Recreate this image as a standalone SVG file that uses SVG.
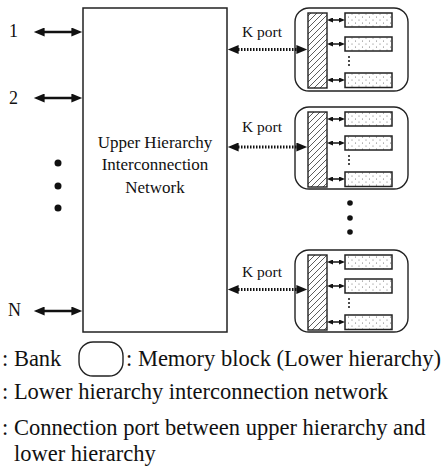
<svg xmlns="http://www.w3.org/2000/svg" width="445" height="471" viewBox="0 0 445 471">
<style>
text { font-family: "Liberation Serif", "Times New Roman", serif; fill: #111; }
.num { font-size: 18px; }
.main { font-size: 17px; text-anchor: middle; }
.kp { font-size: 15.5px; }
.leg { font-size: 22.5px; }
.box { fill: #fff; stroke: #222; stroke-width: 1.5; }
.bank { fill: #fff; stroke: #222; stroke-width: 1.4; }
.bar { fill: url(#hatch); stroke: #222; stroke-width: 1.4; }
.mem { fill: url(#dots); stroke: #222; stroke-width: 1.5; }
.big { stroke: #111; stroke-width: 2.5; fill: none; marker-start: url(#ah); marker-end: url(#ah); }
.dot { stroke: #111; stroke-width: 3; stroke-dasharray: 1.5 1.5; fill: none; marker-start: url(#ah); marker-end: url(#ah); }
.sm { stroke: #111; stroke-width: 1.5; fill: none; marker-start: url(#sh); marker-end: url(#sh); }
.blob { fill: #111; }
</style>
<defs>
<pattern id="hatch" patternUnits="userSpaceOnUse" width="6" height="6">
<path d="M0,6 L6,0 M-1,1 L1,-1 M5,7 L7,5" stroke="#333" stroke-width="0.8"/>
</pattern>
<pattern id="dots" patternUnits="userSpaceOnUse" width="7" height="6">
<circle cx="2" cy="2" r="0.55" fill="#666"/>
<circle cx="5.5" cy="5" r="0.55" fill="#666"/>
</pattern>
<marker id="ah" viewBox="0 0 12 10" refX="4" refY="5" markerWidth="12" markerHeight="9" markerUnits="userSpaceOnUse" orient="auto-start-reverse">
<path d="M0,0 L12,5 L0,10 z" fill="#111"/>
</marker>
<marker id="sh" viewBox="0 0 6 5" refX="2" refY="2.5" markerWidth="6" markerHeight="5" markerUnits="userSpaceOnUse" orient="auto-start-reverse">
<path d="M0,0 L6,2.5 L0,5 z" fill="#111"/>
</marker>
</defs>

<g id="upper-network">
<rect class="box" x="83" y="8" width="144" height="324"/>
<text class="main" x="155" y="148">Upper Hierarchy</text>
<text class="main" x="155" y="170">Interconnection</text>
<text class="main" x="155" y="193">Network</text>
</g>

<g id="port-labels">
<text class="num" x="9" y="37">1</text>
<text class="num" x="9" y="104">2</text>
<text class="num" x="8" y="316">N</text>
<circle class="blob" cx="58" cy="163" r="3.5"/>
<circle class="blob" cx="58" cy="186" r="3.5"/>
<circle class="blob" cx="58" cy="208" r="3.5"/>
</g>

<g id="bank1">
<rect class="bank" x="295" y="8" width="113" height="83" rx="14"/>
<rect class="bar" x="308" y="13" width="19" height="75"/>
<rect class="mem" x="345" y="13" width="47" height="14"/>
<rect class="mem" x="345" y="37" width="47" height="14"/>
<rect class="mem" x="345" y="73" width="47" height="14.5"/>
<circle class="blob" cx="349" cy="57" r="1"/>
<circle class="blob" cx="349" cy="61" r="1"/>
<circle class="blob" cx="349" cy="65" r="1"/>
<text class="kp" x="242" y="37">K port</text>
</g>

<g id="bank2">
<rect class="bank" x="295" y="107" width="113" height="82" rx="14"/>
<rect class="bar" x="308" y="112" width="19" height="75"/>
<rect class="mem" x="345" y="112" width="47" height="14"/>
<rect class="mem" x="345" y="136" width="47" height="14"/>
<rect class="mem" x="345" y="172" width="47" height="14.5"/>
<circle class="blob" cx="349" cy="156" r="1"/>
<circle class="blob" cx="349" cy="160" r="1"/>
<circle class="blob" cx="349" cy="164" r="1"/>
<text class="kp" x="242" y="132">K port</text>
</g>

<g id="bank-dots">
<circle class="blob" cx="350" cy="203" r="2.8"/>
<circle class="blob" cx="350" cy="218" r="2.8"/>
<circle class="blob" cx="350" cy="232" r="2.8"/>
</g>

<g id="bank3">
<rect class="bank" x="295" y="250" width="113" height="82" rx="14"/>
<rect class="bar" x="308" y="255" width="19" height="75"/>
<rect class="mem" x="345" y="255" width="47" height="14"/>
<rect class="mem" x="345" y="279" width="47" height="14"/>
<rect class="mem" x="345" y="315" width="47" height="14.5"/>
<circle class="blob" cx="349" cy="299" r="1"/>
<circle class="blob" cx="349" cy="303" r="1"/>
<circle class="blob" cx="349" cy="307" r="1"/>
<text class="kp" x="242" y="277">K port</text>
</g>

<g id="connectors">
<line class="big" x1="41" y1="32" x2="75" y2="32"/>
<line class="big" x1="41" y1="98" x2="75" y2="98"/>
<line class="big" x1="41" y1="311" x2="75" y2="311"/>
<line class="dot" x1="235" y1="49.5" x2="300" y2="49.5"/>
<line class="dot" x1="235" y1="147" x2="300" y2="147"/>
<line class="dot" x1="235" y1="289.5" x2="300" y2="289.5"/>
<line class="sm" x1="331" y1="20" x2="341" y2="20"/>
<line class="sm" x1="331" y1="44" x2="341" y2="44"/>
<line class="sm" x1="331" y1="80" x2="341" y2="80"/>
<line class="sm" x1="331" y1="119" x2="341" y2="119"/>
<line class="sm" x1="331" y1="143" x2="341" y2="143"/>
<line class="sm" x1="331" y1="179" x2="341" y2="179"/>
<line class="sm" x1="331" y1="262" x2="341" y2="262"/>
<line class="sm" x1="331" y1="286" x2="341" y2="286"/>
<line class="sm" x1="331" y1="322" x2="341" y2="322"/>
</g>

<g id="legend">
<text class="leg" x="2" y="366">: Bank</text>
<rect class="bank" x="79" y="342" width="44" height="34" rx="14"/>
<text class="leg" x="126" y="366">: Memory block (Lower hierarchy)</text>
<text class="leg" x="2" y="399">: Lower hierarchy interconnection network</text>
<text class="leg" x="2" y="435">: Connection port between upper hierarchy and</text>
<text class="leg" x="14" y="461">lower hierarchy</text>
</g>
</svg>
